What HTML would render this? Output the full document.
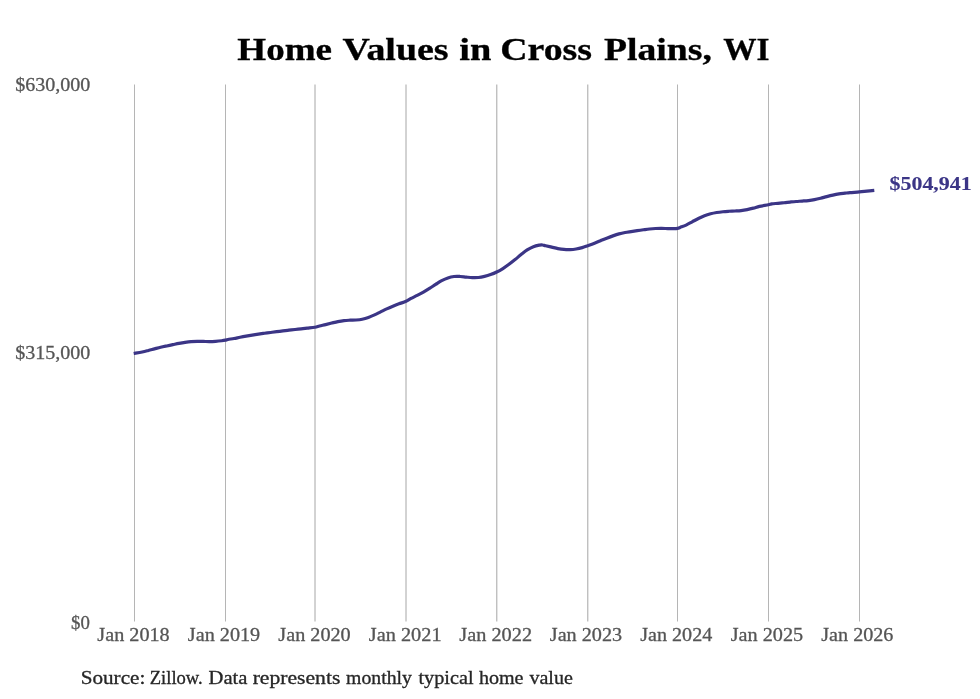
<!DOCTYPE html>
<html><head><meta charset="utf-8"><title>Home Values in Cross Plains, WI</title><style>
html,body{margin:0;padding:0;background:#fff;width:980px;height:699px;overflow:hidden}
svg{display:block;will-change:transform}
text{font-family:"Liberation Serif",serif}
</style></head><body>
<svg width="980" height="699" viewBox="0 0 980 699">
<rect width="980" height="699" fill="#fff"/>
<g stroke="#b5b5b5" stroke-width="1">
<line x1="134.50" y1="84.5" x2="134.50" y2="621.5" stroke="#b5b5b5"/>
<line x1="225.50" y1="84.5" x2="225.50" y2="621.5" stroke="#b5b5b5"/>
<line x1="315.00" y1="84.5" x2="315.00" y2="621.5" stroke="#a6a6a6"/>
<line x1="406.00" y1="84.5" x2="406.00" y2="621.5" stroke="#a6a6a6"/>
<line x1="496.80" y1="84.5" x2="496.80" y2="621.5" stroke="#a6a6a6"/>
<line x1="587.80" y1="84.5" x2="587.80" y2="621.5" stroke="#a6a6a6"/>
<line x1="677.50" y1="84.5" x2="677.50" y2="621.5" stroke="#b5b5b5"/>
<line x1="768.50" y1="84.5" x2="768.50" y2="621.5" stroke="#b5b5b5"/>
<line x1="859.50" y1="84.5" x2="859.50" y2="621.5" stroke="#b5b5b5"/>
</g>
<g font-weight="bold" fill="#000" stroke="#000" stroke-width="0.3">
<text x="237.33" y="60.3" font-size="31.7" textLength="94.69" lengthAdjust="spacingAndGlyphs">Home</text>
<text x="342.52" y="60.3" font-size="31.7" textLength="106.04" lengthAdjust="spacingAndGlyphs">Values</text>
<text x="459.23" y="60.3" font-size="31.7" textLength="32.01" lengthAdjust="spacingAndGlyphs">in</text>
<text x="500.21" y="60.3" font-size="31.7" textLength="91.81" lengthAdjust="spacingAndGlyphs">Cross</text>
<text x="603.92" y="60.3" font-size="31.7" textLength="107.98" lengthAdjust="spacingAndGlyphs">Plains,</text>
<text x="723.27" y="60.3" font-size="31.7" textLength="46.31" lengthAdjust="spacingAndGlyphs">WI</text>
</g>
<g fill="#555555" stroke="#555555" stroke-width="0.28">
<text x="15.20" y="90.7" font-size="18.6" textLength="75.10" lengthAdjust="spacingAndGlyphs">$630,000</text>
<text x="15.20" y="358.7" font-size="18.6" textLength="75.10" lengthAdjust="spacingAndGlyphs">$315,000</text>
<text x="71.05" y="628.6" font-size="18.6" textLength="18.82" lengthAdjust="spacingAndGlyphs">$0</text>
<text x="97.35" y="641" font-size="18.2" textLength="72.37" lengthAdjust="spacingAndGlyphs">Jan 2018</text>
<text x="187.84" y="641" font-size="18.2" textLength="72.37" lengthAdjust="spacingAndGlyphs">Jan 2019</text>
<text x="278.33" y="641" font-size="18.2" textLength="72.37" lengthAdjust="spacingAndGlyphs">Jan 2020</text>
<text x="368.81" y="641" font-size="18.2" textLength="72.79" lengthAdjust="spacingAndGlyphs">Jan 2021</text>
<text x="459.30" y="641" font-size="18.2" textLength="72.79" lengthAdjust="spacingAndGlyphs">Jan 2022</text>
<text x="549.80" y="641" font-size="18.2" textLength="72.37" lengthAdjust="spacingAndGlyphs">Jan 2023</text>
<text x="640.29" y="641" font-size="18.2" textLength="71.97" lengthAdjust="spacingAndGlyphs">Jan 2024</text>
<text x="730.78" y="641" font-size="18.2" textLength="72.37" lengthAdjust="spacingAndGlyphs">Jan 2025</text>
<text x="821.27" y="641" font-size="18.2" textLength="72.17" lengthAdjust="spacingAndGlyphs">Jan 2026</text>
</g>
<g fill="#262626" stroke="#262626" stroke-width="0.3">
<text x="80.73" y="683.5" font-size="18.2" textLength="64.55" lengthAdjust="spacingAndGlyphs">Source:</text>
<text x="149.76" y="683.5" font-size="18.2" textLength="52.99" lengthAdjust="spacingAndGlyphs">Zillow.</text>
<text x="208.59" y="683.5" font-size="18.2" textLength="38.87" lengthAdjust="spacingAndGlyphs">Data</text>
<text x="252.67" y="683.5" font-size="18.2" textLength="87.66" lengthAdjust="spacingAndGlyphs">represents</text>
<text x="346.11" y="683.5" font-size="18.2" textLength="65.77" lengthAdjust="spacingAndGlyphs">monthly</text>
<text x="418.50" y="683.5" font-size="18.2" textLength="55.03" lengthAdjust="spacingAndGlyphs">typical</text>
<text x="478.90" y="683.5" font-size="18.2" textLength="44.64" lengthAdjust="spacingAndGlyphs">home</text>
<text x="529.40" y="683.5" font-size="18.2" textLength="43.41" lengthAdjust="spacingAndGlyphs">value</text>
</g>
<path d="M133.70,353.50 C135.12,353.24 139.75,352.47 142.20,351.96 C144.65,351.46 146.35,350.99 148.40,350.47 C150.45,349.95 152.47,349.39 154.50,348.86 C156.53,348.33 158.57,347.77 160.60,347.28 C162.63,346.80 164.65,346.39 166.70,345.96 C168.75,345.52 170.85,345.10 172.90,344.68 C174.95,344.25 176.97,343.80 179.00,343.41 C181.03,343.03 183.08,342.67 185.10,342.37 C187.12,342.08 189.08,341.81 191.10,341.63 C193.12,341.45 195.15,341.34 197.20,341.30 C199.25,341.27 201.35,341.38 203.40,341.43 C205.45,341.47 207.47,341.60 209.50,341.58 C211.53,341.56 213.57,341.44 215.60,341.30 C217.63,341.16 220.07,340.92 221.70,340.73 C223.33,340.54 224.37,340.36 225.40,340.16 C226.43,339.96 226.47,339.81 227.90,339.53 C229.33,339.25 231.97,338.86 234.00,338.48 C236.03,338.10 238.08,337.65 240.10,337.26 C242.12,336.86 244.08,336.49 246.10,336.13 C248.12,335.77 250.15,335.44 252.20,335.10 C254.25,334.77 256.35,334.44 258.40,334.13 C260.45,333.82 262.47,333.53 264.50,333.25 C266.53,332.98 268.57,332.74 270.60,332.48 C272.63,332.22 274.65,331.96 276.70,331.70 C278.75,331.44 280.85,331.18 282.90,330.93 C284.95,330.67 286.97,330.42 289.00,330.18 C291.03,329.95 293.08,329.71 295.10,329.50 C297.12,329.28 299.08,329.12 301.10,328.90 C303.12,328.67 304.90,328.44 307.20,328.16 C309.50,327.88 312.85,327.57 314.90,327.21 C316.95,326.85 317.72,326.45 319.50,326.01 C321.28,325.57 323.57,325.08 325.60,324.59 C327.63,324.10 329.65,323.56 331.70,323.06 C333.75,322.56 335.85,322.00 337.90,321.58 C339.95,321.16 341.97,320.80 344.00,320.57 C346.03,320.33 348.08,320.28 350.10,320.19 C352.12,320.09 354.08,320.15 356.10,319.99 C358.12,319.82 360.15,319.63 362.20,319.21 C364.25,318.79 366.35,318.17 368.40,317.44 C370.45,316.72 372.47,315.80 374.50,314.87 C376.53,313.95 378.57,312.89 380.60,311.90 C382.63,310.91 384.65,309.86 386.70,308.92 C388.75,307.98 390.85,307.09 392.90,306.24 C394.95,305.39 396.82,304.66 399.00,303.84 C401.18,303.01 403.98,302.19 406.00,301.29 C408.02,300.38 409.23,299.38 411.10,298.40 C412.97,297.42 415.15,296.46 417.20,295.41 C419.25,294.36 421.35,293.26 423.40,292.10 C425.45,290.93 427.47,289.68 429.50,288.40 C431.53,287.13 433.57,285.74 435.60,284.45 C437.63,283.16 439.65,281.75 441.70,280.66 C443.75,279.57 445.85,278.59 447.90,277.91 C449.95,277.22 451.97,276.77 454.00,276.53 C456.03,276.29 458.08,276.39 460.10,276.48 C462.12,276.57 464.08,276.88 466.10,277.07 C468.12,277.26 470.15,277.53 472.20,277.60 C474.25,277.67 476.35,277.69 478.40,277.49 C480.45,277.29 482.47,276.90 484.50,276.42 C486.53,275.93 488.57,275.33 490.60,274.59 C492.63,273.86 494.65,273.03 496.70,272.02 C498.75,271.01 500.85,269.80 502.90,268.52 C504.95,267.23 506.97,265.79 509.00,264.29 C511.03,262.80 513.08,261.17 515.10,259.55 C517.12,257.93 519.08,256.19 521.10,254.58 C523.12,252.98 525.15,251.26 527.20,249.94 C529.25,248.61 531.35,247.45 533.40,246.65 C535.45,245.85 537.97,245.42 539.50,245.14 C541.03,244.87 541.58,244.90 542.60,245.00 C543.62,245.10 544.08,245.38 545.60,245.74 C547.12,246.10 549.65,246.68 551.70,247.16 C553.75,247.63 555.85,248.20 557.90,248.59 C559.95,248.97 561.97,249.28 564.00,249.45 C566.03,249.62 568.08,249.67 570.10,249.59 C572.12,249.51 574.08,249.31 576.10,248.98 C578.12,248.65 580.25,248.16 582.20,247.60 C584.15,247.04 585.75,246.37 587.80,245.63 C589.85,244.90 592.37,244.01 594.50,243.18 C596.63,242.36 598.57,241.51 600.60,240.68 C602.63,239.86 604.65,239.03 606.70,238.23 C608.75,237.43 610.85,236.61 612.90,235.88 C614.95,235.15 616.97,234.43 619.00,233.86 C621.03,233.30 623.08,232.86 625.10,232.48 C627.12,232.10 629.08,231.86 631.10,231.56 C633.12,231.26 635.15,230.99 637.20,230.69 C639.25,230.40 641.35,230.07 643.40,229.79 C645.45,229.50 647.47,229.18 649.50,228.97 C651.53,228.76 653.57,228.60 655.60,228.50 C657.63,228.41 659.65,228.40 661.70,228.41 C663.75,228.43 665.85,228.53 667.90,228.57 C669.95,228.62 672.40,228.70 674.00,228.68 C675.60,228.66 676.48,228.65 677.50,228.44 C678.52,228.23 678.67,227.98 680.10,227.42 C681.53,226.86 684.08,226.02 686.10,225.08 C688.12,224.14 690.15,222.90 692.20,221.80 C694.25,220.69 696.35,219.47 698.40,218.46 C700.45,217.46 702.47,216.53 704.50,215.76 C706.53,214.98 708.57,214.36 710.60,213.82 C712.63,213.28 714.65,212.88 716.70,212.53 C718.75,212.19 720.85,211.94 722.90,211.72 C724.95,211.51 726.97,211.39 729.00,211.26 C731.03,211.14 733.08,211.10 735.10,210.98 C737.12,210.86 739.08,210.78 741.10,210.54 C743.12,210.31 745.15,209.97 747.20,209.56 C749.25,209.16 751.35,208.64 753.40,208.10 C755.45,207.57 757.00,206.92 759.50,206.37 C762.00,205.82 766.37,205.20 768.40,204.78 C770.43,204.36 770.12,204.11 771.70,203.86 C773.28,203.61 775.85,203.49 777.90,203.30 C779.95,203.11 781.97,202.93 784.00,202.72 C786.03,202.52 788.08,202.26 790.10,202.05 C792.12,201.85 794.08,201.65 796.10,201.48 C798.12,201.32 800.15,201.22 802.20,201.07 C804.25,200.92 806.35,200.80 808.40,200.57 C810.45,200.34 812.47,200.07 814.50,199.69 C816.53,199.31 818.57,198.80 820.60,198.28 C822.63,197.77 824.65,197.14 826.70,196.61 C828.75,196.08 830.85,195.54 832.90,195.10 C834.95,194.66 836.97,194.27 839.00,193.95 C841.03,193.64 843.27,193.43 845.10,193.21 C846.93,192.99 847.62,192.86 850.00,192.65 C852.38,192.43 856.58,192.15 859.40,191.89 C862.22,191.63 864.42,191.34 866.90,191.07 C869.38,190.81 873.07,190.43 874.30,190.30" fill="none" stroke="#3b3586" stroke-width="3.2" stroke-linejoin="round" stroke-linecap="butt"/>
<g font-weight="bold" fill="#3b3586" stroke="#3b3586" stroke-width="0.12">
<text x="889.54" y="189.6" font-size="18.6" textLength="82.15" lengthAdjust="spacingAndGlyphs">$504,941</text>
</g>
</svg>
</body></html>
